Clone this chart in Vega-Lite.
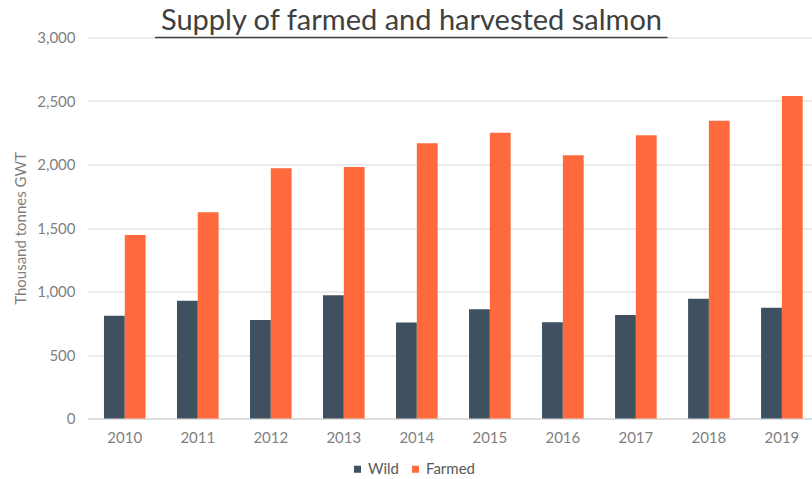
{
  "$schema": "https://vega.github.io/schema/vega-lite/v6.json",
  "width": 724,
  "height": 381,
  "autosize": {"type": "none"},
  "padding": {"left": 88, "top": 37.5, "right": 0, "bottom": 60.5},
  "background": "white",
  "title": {
    "text": "Supply of farmed and harvested salmon",
    "font": "Lato",
    "fontSize": 29,
    "fontWeight": "normal",
    "color": "#404040",
    "anchor": "middle",
    "dx": -38.5,
    "dy": 5,
    "offset": 0
  },
  "config": {"view": {"stroke": null}},
  "layer": [
    {
      "data": {
        "values": [
          {"year": "2010", "type": "Wild", "value": 810},
          {"year": "2010", "type": "Farmed", "value": 1445},
          {"year": "2011", "type": "Wild", "value": 928},
          {"year": "2011", "type": "Farmed", "value": 1624},
          {"year": "2012", "type": "Wild", "value": 776},
          {"year": "2012", "type": "Farmed", "value": 1970},
          {"year": "2013", "type": "Wild", "value": 970},
          {"year": "2013", "type": "Farmed", "value": 1980},
          {"year": "2014", "type": "Wild", "value": 755},
          {"year": "2014", "type": "Farmed", "value": 2167},
          {"year": "2015", "type": "Wild", "value": 860},
          {"year": "2015", "type": "Farmed", "value": 2250},
          {"year": "2016", "type": "Wild", "value": 757},
          {"year": "2016", "type": "Farmed", "value": 2072},
          {"year": "2017", "type": "Wild", "value": 815},
          {"year": "2017", "type": "Farmed", "value": 2230},
          {"year": "2018", "type": "Wild", "value": 943},
          {"year": "2018", "type": "Farmed", "value": 2345},
          {"year": "2019", "type": "Wild", "value": 872},
          {"year": "2019", "type": "Farmed", "value": 2539}
        ]
      },
      "mark": {"type": "bar"},
      "encoding": {
        "x": {
          "field": "year",
          "type": "nominal",
          "scale": {"paddingInner": 0.43, "paddingOuter": 0.173, "align": 0.632},
          "axis": {
            "title": null,
            "labelAngle": 0,
            "labelFont": "Lato",
            "labelFontSize": 15,
            "labelColor": "#7f7f7f",
            "labelPadding": 12,
            "ticks": false,
            "domainColor": "#d9d9d9",
            "domainWidth": 1.5
          }
        },
        "xOffset": {"field": "type", "type": "nominal", "sort": ["Wild", "Farmed"], "scale": {"paddingInner": 0, "paddingOuter": 0}},
        "y": {
          "field": "value",
          "type": "quantitative",
          "scale": {"domain": [0, 3000], "nice": false},
          "axis": {
            "values": [0, 500, 1000, 1500, 2000, 2500, 3000],
            "format": ",.0f",
            "grid": true,
            "gridColor": "#d9d9d9",
            "domain": false,
            "ticks": false,
            "labelFont": "Lato",
            "labelFontSize": 15,
            "labelColor": "#7f7f7f",
            "labelPadding": 13,
            "title": "Thousand tonnes GWT",
            "titleFont": "Lato",
            "titleFontSize": 15,
            "titleFontWeight": "normal",
            "titleColor": "#7f7f7f",
            "titleX": -68,
            "titleY": 190.5,
            "titleBaseline": "middle",
            "titleAlign": "center",
            "titleAngle": -90
          }
        },
        "color": {
          "field": "type",
          "type": "nominal",
          "scale": {"domain": ["Wild", "Farmed"], "range": ["#3F5160", "#FF6A3C"]},
          "legend": {
            "title": null,
            "orient": "none",
            "legendX": 262,
            "legendY": 424,
            "direction": "horizontal",
            "symbolType": "square",
            "symbolSize": 49,
            "symbolStrokeWidth": 0,
            "labelFont": "Lato",
            "labelFontSize": 15,
            "labelColor": "#595959",
            "columnPadding": 8,
            "labelOffset": 3
          }
        }
      }
    },
    {
      "data": {"values": [{"anchor": "title"}]},
      "mark": {"type": "rule", "color": "#404040", "strokeWidth": 1.5},
      "encoding": {
        "x": {"datum": "2011", "bandPosition": -0.53},
        "x2": {"datum": "2017", "bandPosition": 1.26},
        "y": {"datum": 3000}
      }
    }
  ]
}
